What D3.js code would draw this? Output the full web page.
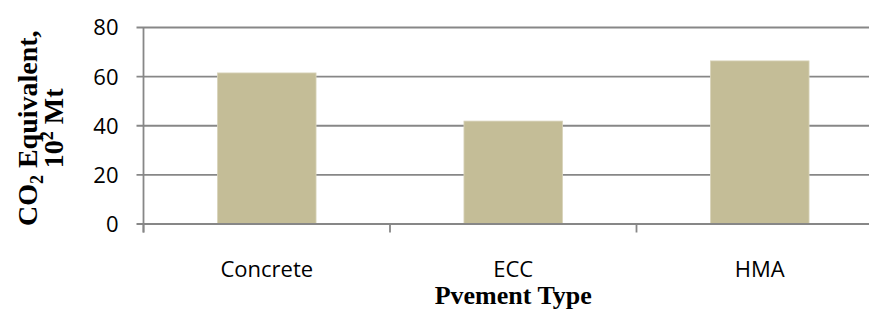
<!DOCTYPE html>
<html>
<head>
<meta charset="utf-8">
<script src="https://cdn.jsdelivr.net/npm/d3@7"></script>
<style>
    body { margin: 0; background: #fff; }
    svg { display: block; }
</style>
</head>
<body>
<div id="chart"></div>
<script>
const categories = ["Concrete", "ECC", "HMA"]
const values = [61.3, 41.7, 66.2]
const yTicks = [0, 20, 40, 60, 80]

const totalWidth = 869, totalHeight = 309

let margin = { top: 27, right: -14, bottom: 85.5, left: 143.5 },
    width = totalWidth - margin.left - margin.right,
    height = totalHeight - margin.top - margin.bottom;

const svg = d3.select("#chart")
    .append("svg")
    .attr("width", totalWidth)
    .attr("height", totalHeight)
    .append("g")
    .attr("transform", `translate(${margin.left}, ${margin.top})`);

/* X-scale */
let x = d3.scaleBand()
    .domain(categories)
    .range([0, width])
    .padding(0);

/* Y-scale */
let y = d3.scaleLinear()
    .domain([0, 80])
    .range([height, 0]);

const gridColor = "#878787"

/* gridlines + left ticks */
svg.append("g")
    .call(d3.axisLeft(y).tickValues(yTicks).tickSize(-width - 8).tickSizeOuter(0).tickPadding(0))
    .call(g => g.select(".domain").remove())
    .call(g => g.selectAll(".tick line")
        .attr("x1", -7)
        .attr("x2", width)
        .attr("stroke", gridColor)
        .attr("stroke-width", 1.8))
    .call(g => g.selectAll(".tick text")
        .attr("x", -25)
        .attr("dy", "0.36em")
        .attr("fill", "#000")
        .style("font-family", "'Open Sans', sans-serif")
        .style("font-size", "22px"));

/* bars */
svg.selectAll("bar")
    .data(values)
    .enter()
    .append("rect")
    .attr("x", (d, i) => x(categories[i]) + x.bandwidth() * 0.3)
    .attr("y", d => y(d))
    .attr("width", x.bandwidth() * 0.4)
    .attr("height", d => height - y(d))
    .attr("fill", "#c4bd97")
    .attr("stroke", "#d9d4bb")
    .attr("stroke-width", 0.8);

/* X-axis */
svg.append("g")
    .attr("transform", `translate(0, ${height})`)
    .call(d3.axisBottom(x).tickSize(0).tickSizeOuter(0).tickPadding(0))
    .call(g => g.select(".domain")
        .attr("stroke", gridColor)
        .attr("stroke-width", 1.8))
    .call(g => g.selectAll(".tick text")
        .attr("y", 53.5)
        .attr("dy", 0)
        .attr("fill", "#000")
        .style("font-family", "'Open Sans', sans-serif")
        .style("font-size", "22px"));

/* category boundary ticks */
svg.append("g")
    .selectAll("line")
    .data(categories)
    .enter()
    .append("line")
    .attr("x1", d => x(d))
    .attr("x2", d => x(d))
    .attr("y1", height)
    .attr("y2", height + 9)
    .attr("stroke", gridColor)
    .attr("stroke-width", 1.8);

/* y axis line */
svg.append("line")
    .attr("x1", 0).attr("x2", 0)
    .attr("y1", 0).attr("y2", height + 9)
    .attr("stroke", gridColor)
    .attr("stroke-width", 1.8);

/* axis titles */
svg.append("text")
    .attr("text-anchor", "middle")
    .attr("x", width / 2)
    .attr("y", height + 80.5)
    .style("font-family", "'Liberation Serif', 'Times New Roman', serif")
    .style("font-weight", "bold")
    .style("font-size", "26px")
    .text("Pvement Type")

const yTitle = svg.append("text")
    .attr("text-anchor", "middle")
    .attr("transform", "rotate(-90)")
    .style("font-family", "'Liberation Serif', 'Times New Roman', serif")
    .style("font-weight", "bold")
    .style("font-size", "28px")

const line1 = yTitle.append("tspan")
    .attr("x", -height / 2 - 3)
    .attr("y", 37 - margin.left)
line1.append("tspan").text("CO")
line1.append("tspan").attr("dy", 6).style("font-size", "18px").text("2")
line1.append("tspan").attr("dy", -6).text(" Equivalent,")

const line2 = yTitle.append("tspan")
    .attr("x", -height / 2 - 3)
    .attr("y", 63 - margin.left)
line2.append("tspan").text("10")
line2.append("tspan").attr("dy", -10).style("font-size", "18px").text("2")
line2.append("tspan").attr("dy", 10).text(" Mt")
</script>
</body>
</html>
